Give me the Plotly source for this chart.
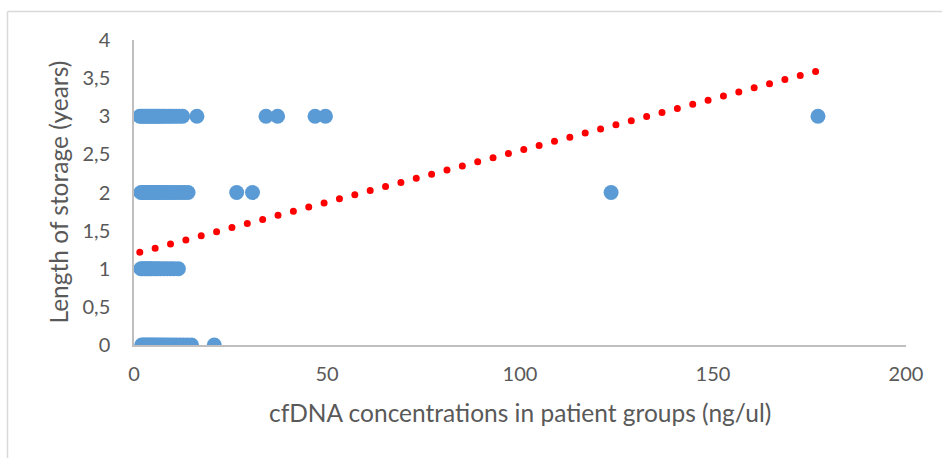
import plotly.graph_objects as go

# ---- data ----
y3_x = [1.5, 2.0, 2.4, 2.9, 3.3, 3.8, 4.2, 4.7, 5.1, 5.6, 6.0, 6.5, 7.1, 7.6, 8.2, 8.9,
        9.5, 10.3, 11.0, 11.8, 12.6, 16.3, 34.2, 37.2, 46.9, 49.6, 177.2]
y2_x = [1.8, 2.3, 2.7, 3.2, 3.6, 4.1, 4.6, 5.0, 5.5, 6.1, 6.6, 7.2, 7.8, 8.5, 9.1, 9.8,
        10.6, 11.4, 12.2, 13.1, 14.0, 26.6, 30.7, 123.6]
y1_x = [1.8, 2.2, 2.7, 3.1, 3.6, 4.0, 4.5, 5.1, 5.7, 6.3, 7.0, 7.8, 8.6, 9.5, 10.4, 11.5]
y0_x = [2.0, 2.4, 2.9, 3.3, 3.8, 4.2, 4.7, 5.2, 5.7, 6.2, 6.8, 7.4, 8.0, 8.7, 9.4, 10.2,
        11.0, 11.9, 12.8, 13.8, 14.9, 20.8]

storage_years = [3, 2, 1, 0]
groups_x = [y3_x, y2_x, y1_x, y0_x]

# linear trendline end points (as drawn in the reference)
trend_x = [1.5, 176.7]
trend_y = [1.216, 3.59]

x_tickvals = [0, 50, 100, 150, 200]
x_ticktext = ["0", "50", "100", "150", "200"]
y_tickvals = [0, 0.5, 1, 1.5, 2, 2.5, 3, 3.5, 4]
y_ticktext = ["0", "0,5", "1", "1,5", "2", "2,5", "3", "3,5", "4"]

x_title = "cfDNA concentrations in patient groups (ng/ul)"
y_title = "Length of storage (years)"

# ---- build ----
all_x = []
all_y = []
for yv, xs in zip(storage_years, groups_x):
    all_x.extend(xs)
    all_y.extend([yv] * len(xs))

FONT = "Lato"
TXT = "#595959"
W, H = 942, 458
L, R, T, B = 134, 36, 40, 113
pw, ph = W - L - R, H - T - B

def px2paper_x(p):
    return (p - L) / pw

def px2paper_y(p):
    return (H - B - p) / ph

fig = go.Figure()
fig.add_trace(go.Scatter(
    x=all_x, y=all_y, mode="markers",
    marker=dict(size=15, color="#5B9BD5", line=dict(width=0)),
    showlegend=False, hoverinfo="x+y",
))
fig.add_trace(go.Scatter(
    x=trend_x, y=trend_y, mode="lines",
    line=dict(color="#FF0000", width=7, dash="0px,15.9px"),
    showlegend=False, hoverinfo="skip",
))

fig.update_layout(
    width=W, height=H,
    margin=dict(l=L, r=R, t=T, b=B, pad=0),
    paper_bgcolor="white", plot_bgcolor="white",
    font=dict(family=FONT, color=TXT, size=20),
    xaxis=dict(range=[0, 200], tickvals=x_tickvals, ticktext=x_ticktext,
               showgrid=False, zeroline=False, showline=True,
               linecolor="#BFBFBF", linewidth=1.5, ticks="",
               ticklabelstandoff=10, tickfont=dict(size=20, color=TXT)),
    yaxis=dict(range=[0, 4], tickvals=y_tickvals, ticktext=y_ticktext,
               showgrid=False, zeroline=False, showline=True,
               linecolor="#BFBFBF", linewidth=1.5, ticks="",
               ticklabelstandoff=18, tickfont=dict(size=20, color=TXT)),
    annotations=[
        dict(text=x_title, xref="paper", yref="paper", x=0.5, y=px2paper_y(413),
             xanchor="center", yanchor="middle", showarrow=False,
             font=dict(size=24.5, color=TXT, family=FONT)),
        dict(text=y_title, xref="paper", yref="paper", x=px2paper_x(58), y=0.5,
             xanchor="center", yanchor="middle", showarrow=False, textangle=-90,
             font=dict(size=24.5, color=TXT, family=FONT)),
    ],
    shapes=[
        dict(type="line", xref="paper", yref="paper",
             x0=px2paper_x(7.5), x1=px2paper_x(7.5),
             y0=px2paper_y(11.5), y1=px2paper_y(460),
             line=dict(color="#D9D9D9", width=1.5)),
        dict(type="line", xref="paper", yref="paper",
             x0=px2paper_x(7.5), x1=px2paper_x(944),
             y0=px2paper_y(11.5), y1=px2paper_y(11.5),
             line=dict(color="#D9D9D9", width=1.5)),
    ],
)

post = ("document.querySelectorAll('path.js-line').forEach(function(p){"
        "p.style.strokeLinecap='round';});")
fig.write_html("out.html", post_script=post, config={"displayModeBar": False})
